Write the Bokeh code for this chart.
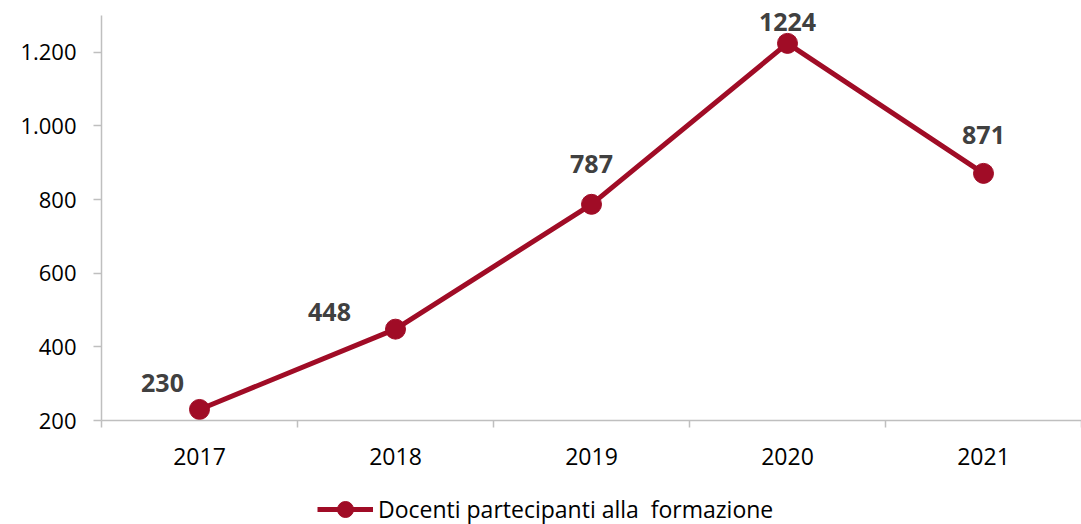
from bokeh.plotting import figure
from bokeh.layouts import column
from bokeh.models import (ColumnDataSource, Range1d, FixedTicker, Legend, LegendItem)
from bokeh.core.properties import value
from bokeh.embed import file_html
from bokeh.resources import INLINE

years = ["2017", "2018", "2019", "2020", "2021"]
docenti = [230, 448, 787, 1224, 871]
series_name = "Docenti partecipanti alla  formazione"
y_ticks = [200, 400, 600, 800, 1000, 1200]
y_min, y_max = 200, 1300
# label offsets in screen pixels (dx, dy)
label_dx = [-37, -66, 0, 0, 0]
label_dy = [-26, -17, -40, -21, -38]

FONT = "Open Sans"
RED = "#A00C26"
GRAY = "#BFBFBF"
W = 1081

xs = [i + 0.5 for i in range(len(years))]
src = ColumnDataSource(dict(x=xs, y=docenti, lab=[str(v) for v in docenti],
                            dx=label_dx, dy=label_dy))

p = figure(width=W, height=480, output_backend="svg", toolbar_location=None,
           x_range=Range1d(0, len(years)), y_range=Range1d(y_min, y_max + 35),
           min_border_left=101, min_border_right=0, min_border_top=2, min_border_bottom=60)
p.outline_line_color = None
p.grid.visible = False
p.background_fill_color = "white"
p.border_fill_color = "white"

line_r = p.line("x", "y", source=src, line_color=RED, line_width=5)
dot_r = p.scatter("x", "y", source=src, size=20, fill_color=RED, line_color=RED)
p.text("x", "y", text="lab", source=src, x_offset="dx", y_offset="dy",
       text_align="center", text_baseline="middle", text_font=value(FONT),
       text_font_size="25px", text_font_style="bold", text_color="#404040")

# y axis
ya = p.yaxis[0]
ya.bounds = (y_min, y_max)
ya.ticker = FixedTicker(ticks=y_ticks)
ya.major_label_overrides = {v: f"{v:,}".replace(",", ".") for v in y_ticks}
ya.axis_line_color = GRAY
ya.axis_line_width = 1.5
ya.major_tick_line_color = GRAY
ya.major_tick_line_width = 1.5
ya.major_tick_out = 8
ya.major_tick_in = 0
ya.minor_tick_line_color = None
ya.major_label_standoff = 17
ya.major_label_text_font = FONT
ya.major_label_text_font_size = "22px"
ya.major_label_text_color = "#000000"

# x axis: labels at category centres, ticks at category boundaries
xa = p.xaxis[0]
xa.ticker = FixedTicker(ticks=xs, minor_ticks=list(range(len(years) + 1)))
xa.major_label_overrides = {x: y for x, y in zip(xs, years)}
xa.axis_line_color = GRAY
xa.axis_line_width = 1.5
xa.major_tick_line_color = None
xa.major_tick_out = 0
xa.major_tick_in = 0
xa.minor_tick_line_color = GRAY
xa.minor_tick_line_width = 1.5
xa.minor_tick_out = 7
xa.minor_tick_in = 0
xa.major_label_standoff = 20
xa.major_label_text_font = FONT
xa.major_label_text_font_size = "23px"
xa.major_label_text_color = "#000000"

# legend strip below the chart
p2 = figure(width=W, height=44, output_backend="svg", toolbar_location=None,
            x_range=Range1d(0, 1), y_range=Range1d(0, 1),
            min_border=0, x_axis_type=None, y_axis_type=None)
p2.outline_line_color = None
p2.grid.visible = False
lr2 = p2.line("x", "y", source=src, line_color=RED, line_width=5)
dr2 = p2.scatter("x", "y", source=src, size=20, fill_color=RED, line_color=RED)
legend = Legend(items=[LegendItem(label=series_name, renderers=[lr2, dr2])],
                orientation="horizontal", location=(216, -5),
                glyph_width=56, glyph_height=40, label_standoff=5,
                label_text_font=FONT, label_text_font_size="23px",
                label_text_color="#000000", border_line_color=None,
                background_fill_alpha=0, padding=0, margin=0, spacing=0)
p2.add_layout(legend, "center")

layout = column(p, p2, spacing=0)
open("out.html", "w").write(file_html(layout, INLINE))
